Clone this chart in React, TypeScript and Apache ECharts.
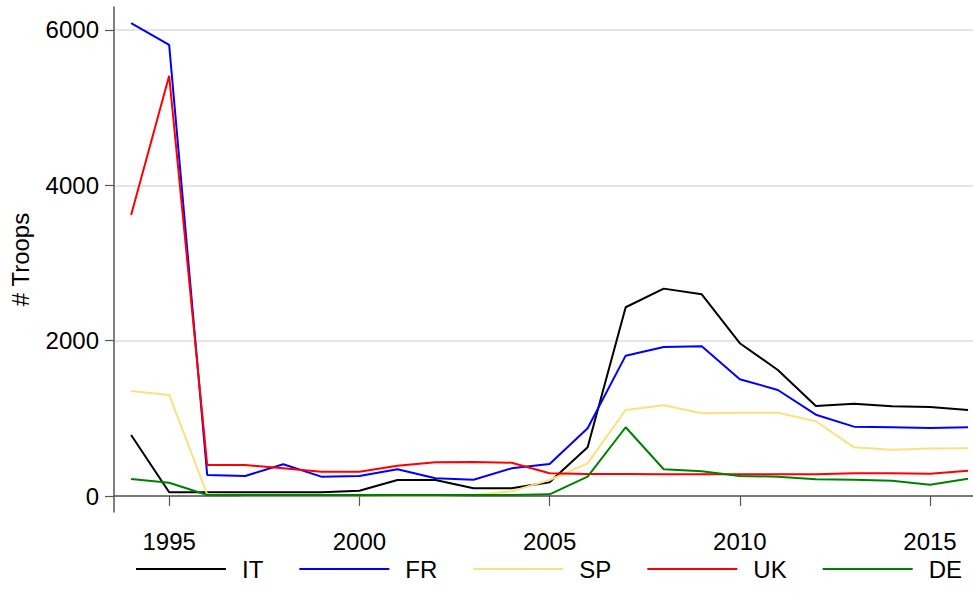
import React, { useEffect, useRef } from "react";
import * as echarts from "echarts";

const years = [1994, 1995, 1996, 1997, 1998, 1999, 2000, 2001, 2002, 2003, 2004, 2005, 2006, 2007, 2008, 2009, 2010, 2011, 2012, 2013, 2014, 2015, 2016];
const IT = [786, 48, 48, 48, 48, 48, 68, 206, 206, 99, 99, 176, 627, 2430, 2670, 2597, 1967, 1623, 1159, 1189, 1155, 1146, 1108];
const FR = [6088, 5809, 270, 258, 408, 249, 258, 344, 228, 210, 356, 412, 872, 1807, 1919, 1928, 1503, 1365, 1047, 893, 885, 876, 885];
const SP = [1352, 1301, 22, 10, 10, 10, 10, 5, 5, 13, 60, 206, 421, 1108, 1168, 1065, 1073, 1073, 962, 627, 597, 610, 614];
const UK = [3619, 5410, 399, 399, 357, 313, 313, 390, 434, 438, 429, 292, 283, 283, 279, 279, 279, 279, 279, 292, 292, 288, 326];
const DE = [219, 171, 13, 13, 13, 13, 13, 13, 13, 13, 13, 22, 249, 885, 344, 318, 258, 249, 215, 210, 197, 146, 223];

const xTicks = [1995, 2000, 2005, 2010, 2015];
const yTicks = [0, 2000, 4000, 6000];

const seriesDefs = [
  { name: "IT", data: IT, color: "#000000" },
  { name: "FR", data: FR, color: "#0000ff" },
  { name: "SP", data: SP, color: "#fbe17e" },
  { name: "UK", data: UK, color: "#ff0000" },
  { name: "DE", data: DE, color: "#008000" },
];

const FONT = "'Liberation Sans', Arial, Helvetica, sans-serif";

export default function App() {
  const ref = useRef<HTMLDivElement>(null);
  useEffect(() => {
    if (!ref.current) return;
    const chart = echarts.init(ref.current, null, { renderer: "svg" });
    chart.setOption({
      animation: false,
      backgroundColor: "#ffffff",
      textStyle: { fontFamily: FONT },
      grid: { left: 114, right: 0, top: 7, bottom: 98, containLabel: false, outerBoundsMode: "none" },
      legend: {
        left: 136,
        top: 557,
        width: 900,
        orient: "horizontal",
        icon: "rect",
        itemWidth: 90,
        itemHeight: 2,
        itemGap: 36,
        padding: 0,
        textStyle: { fontSize: 24, color: "#000", fontFamily: FONT, padding: [0, 0, 0, 11] },
        data: seriesDefs.map((s) => s.name),
      },
      xAxis: {
        type: "value",
        min: 1993.55,
        max: 2016.13,
        axisLine: { show: true, lineStyle: { color: "#555", width: 1.5 } },
        axisTick: { show: true, length: 10, customValues: xTicks, lineStyle: { color: "#555", width: 1.2 } },
        axisLabel: { customValues: xTicks, fontSize: 24, color: "#000", margin: 17, fontFamily: FONT, formatter: (v: number) => String(v) },
        splitLine: { show: false },
      },
      yAxis: {
        type: "value",
        min: -206,
        max: 6296,
        name: "# Troops",
        nameLocation: "middle",
        nameGap: 82,
        nameRotate: 90,
        nameTextStyle: { fontSize: 24, color: "#000", fontFamily: FONT },
        axisLine: { show: true, lineStyle: { color: "#555", width: 1.5 } },
        axisTick: { show: true, inside: false, length: 9, customValues: yTicks, lineStyle: { color: "#555", width: 1.2 } },
        axisLabel: { customValues: yTicks, fontSize: 24, color: "#000", margin: 15, fontFamily: FONT, formatter: (v: number) => String(v) },
        splitLine: { show: true, lineStyle: { color: "#e5e5e5", width: 2 } },
      },
      series: seriesDefs.map((s) => ({
        name: s.name,
        type: "line",
        data: years.map((y, i) => [y, s.data[i]]),
        showSymbol: false,
        symbol: "none",
        lineStyle: { color: s.color, width: 2 },
        itemStyle: { color: s.color },
        emphasis: { disabled: true },
      })),
    });
    return () => chart.dispose();
  }, []);
  return <div ref={ref} style={{ position: "fixed", left: 0, top: 0, width: 973, height: 610 }} />;
}
